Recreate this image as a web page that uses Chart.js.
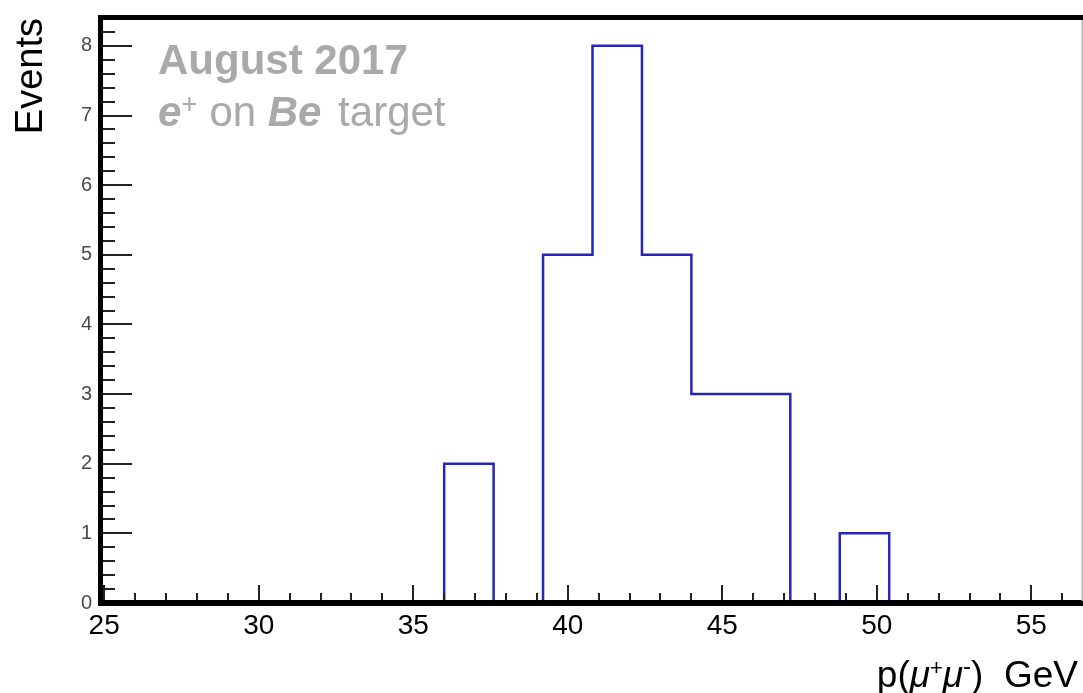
<!DOCTYPE html>
<html>
<head>
<meta charset="utf-8">
<script src="https://cdn.jsdelivr.net/npm/chart.js@4.4.0/dist/chart.umd.min.js"></script>
<style>
  html, body { margin: 0; padding: 0; background: #fff; overflow: hidden; }
  #wrap { width: 1083px; height: 693px; overflow: hidden; }
</style>
</head>
<body>
<div id="wrap"><canvas id="histChart" width="1090" height="693"></canvas></div>
<script>
  // 20 bins of 1.6 GeV
  const binEdges = [24.8, 26.4, 28.0, 29.6, 31.2, 32.8, 34.4, 36.0, 37.6, 39.2, 40.8,
                    42.4, 44.0, 45.6, 47.2, 48.8, 50.4, 52.0, 53.6, 55.2, 56.8];
  const eventCounts = [0, 0, 0, 0, 0, 0, 0, 2, 0, 5, 8, 5, 3, 3, 0, 1, 0, 0, 0, 0];
  const xTickLabels = [25, 30, 35, 40, 45, 50, 55];
  const yTickLabels = [0, 1, 2, 3, 4, 5, 6, 7, 8];
  const yMax = 8.4;

  const FONT = '"Liberation Sans", Arial, Helvetica, sans-serif';
  const VIEW_W = 1083; // visible width, the frame runs past it

  // step outline: one point per bin low edge, plus the last high edge
  const stepPoints = eventCounts.map((c, i) => ({ x: binEdges[i], y: c }));
  stepPoints.push({ x: binEdges[binEdges.length - 1], y: eventCounts[eventCounts.length - 1] });

  function drawRuns(ctx, runs, x, y, align) {
    let total = 0;
    runs.forEach(r => { ctx.font = r.font; r.w = ctx.measureText(r.t).width + (r.gap || 0); total += r.w; });
    let cx = align === 'right' ? x - total : x;
    runs.forEach(r => {
      ctx.font = r.font;
      ctx.fillText(r.t, cx + (r.gap || 0), y + (r.dy || 0));
      cx += r.w;
    });
  }

  // ROOT-like frame, inward ticks and extra labels
  const rootFrame = {
    id: 'rootFrame',
    afterDraw(chart) {
      const { ctx, chartArea: a, scales: { x, y } } = chart;
      ctx.save();

      ctx.strokeStyle = '#222';
      ctx.lineWidth = 2;
      ctx.beginPath();
      for (let v = 25; v <= x.max; v += 1) {
        const px = Math.round(x.getPixelForValue(v));
        const len = v % 5 === 0 ? 18 : 10;
        ctx.moveTo(px, a.bottom);
        ctx.lineTo(px, a.bottom - len);
      }
      for (let k = 0; k <= 42; k++) {
        const py = Math.round(y.getPixelForValue(k / 5));
        const len = k % 5 === 0 ? 34 : 17;
        ctx.moveTo(a.left, py);
        ctx.lineTo(a.left + len, py);
      }
      ctx.stroke();

      // frame
      ctx.fillStyle = '#000';
      ctx.fillRect(a.left, a.top - 3, a.right - a.left + 4, 5);
      ctx.fillRect(a.left, a.top - 3, 5, a.bottom - a.top + 6);
      ctx.fillRect(a.left, a.bottom - 3, a.right - a.left + 4, 6);
      ctx.fillStyle = '#b5b5b5';
      ctx.fillRect(VIEW_W - 1.5, a.top + 2, 1.5, a.bottom - a.top - 4);

      // annotation
      ctx.fillStyle = '#a8aaa9';
      ctx.textBaseline = 'alphabetic';
      ctx.textAlign = 'left';
      ctx.font = 'bold 42px ' + FONT;
      ctx.fillText('August 2017', 158, 74);
      drawRuns(ctx, [
        { t: 'e', font: 'italic bold 42px ' + FONT },
        { t: '+', font: '28px ' + FONT, dy: -13 },
        { t: ' on ', font: '42px ' + FONT },
        { t: 'Be', font: 'italic bold 42px ' + FONT },
        { t: ' target', font: '42px ' + FONT, gap: 5 }
      ], 158, 126, 'left');

      // x axis title
      ctx.fillStyle = '#000';
      drawRuns(ctx, [
        { t: 'p(', font: '37px ' + FONT },
        { t: 'μ', font: 'italic 37px ' + FONT },
        { t: '+', font: '22px ' + FONT, dy: -12 },
        { t: 'μ', font: 'italic 37px ' + FONT },
        { t: '-', font: '24px ' + FONT, dy: -13 },
        { t: ')  GeV', font: '37px ' + FONT }
      ], 1078, 687, 'right');

      ctx.restore();
    }
  };

  const histData = {
    datasets: [{
      label: 'Events',
      data: stepPoints,
      stepped: 'before',
      borderColor: '#2626b8',
      borderWidth: 2.5,
      pointRadius: 0,
      fill: false
    }]
  };

  const histConfig = {
    type: 'line',
    data: histData,
    options: {
      responsive: false,
      animation: false,
      layout: { padding: { top: 15, right: 3, left: 0, bottom: 0 } },
      plugins: {
        legend: { display: false },
        tooltip: { enabled: false }
      },
      scales: {
        x: {
          type: 'linear',
          min: binEdges[0],
          max: binEdges[binEdges.length - 1],
          afterBuildTicks: s => { s.ticks = xTickLabels.map(v => ({ value: v })); },
          afterFit: s => { s.height = 90; },
          grid: { display: false, drawTicks: false },
          border: { display: false },
          ticks: {
            color: '#000',
            font: { family: FONT, size: 28 },
            padding: 6,
            maxRotation: 0,
            autoSkip: false
          }
        },
        y: {
          type: 'linear',
          min: 0,
          max: yMax,
          afterBuildTicks: s => { s.ticks = yTickLabels.map(v => ({ value: v })); },
          afterFit: s => { s.width = 98; },
          grid: { display: false, drawTicks: false },
          border: { display: false },
          ticks: {
            color: '#4a4a4a',
            font: { family: FONT, size: 20 },
            padding: 6
          },
          title: {
            display: true,
            text: 'Events',
            align: 'end',
            color: '#000',
            font: { family: FONT, size: 38 },
            padding: { top: 9, bottom: 0 }
          }
        }
      }
    },
    plugins: [rootFrame]
  };

  const myHistChart = new Chart(
    document.getElementById('histChart'),
    histConfig
  );
</script>
</body>
</html>
